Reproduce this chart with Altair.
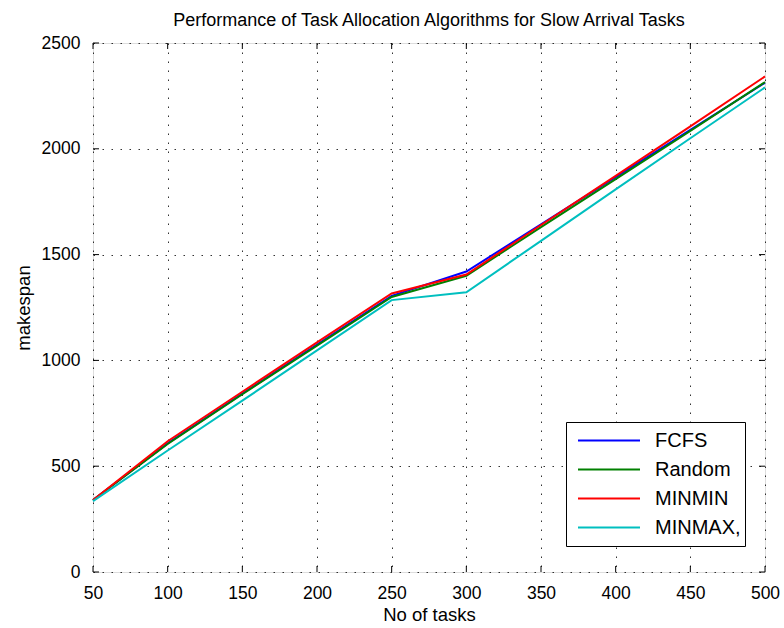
import altair as alt
import pandas as pd

tasks = [50, 100, 150, 200, 250, 300, 350, 400, 450, 500]
fcfs = [340, 608, 843, 1075, 1305, 1420, 1643, 1866, 2089, 2312]
random_alloc = [340, 605, 840, 1070, 1300, 1400, 1630, 1857, 2085, 2315]
minmin = [340, 618, 852, 1085, 1316, 1406, 1640, 1872, 2106, 2342]
minmax = [335, 574, 810, 1047, 1285, 1322, 1565, 1808, 2050, 2290]

series_names = ["FCFS", "Random", "MINMIN", "MINMAX,"]
series_colors = ["#0000FF", "#008000", "#FF0000", "#00BFBF"]

x_ticks = [50, 100, 150, 200, 250, 300, 350, 400, 450, 500]
y_ticks = [0, 500, 1000, 1500, 2000, 2500]

FONT = "Liberation Sans"
W, H = 672, 529
TICK = 6

rows = []
for name, vals in zip(series_names, [fcfs, random_alloc, minmin, minmax]):
    for i, (t, v) in enumerate(zip(tasks, vals)):
        rows.append({"tasks": t, "makespan": v, "algorithm": name, "idx": i})
df = pd.DataFrame(rows)

xscale = alt.Scale(domain=[50, 500], nice=False, zero=False)
yscale = alt.Scale(domain=[0, 2500], nice=False, zero=True)

xaxis = alt.Axis(values=x_ticks, format="d", grid=True, gridColor="#000000", gridDash=[1.5, 7.5],
                 gridOpacity=0.8, ticks=False, domain=False, labelFontSize=17.5,
                 labelFont=FONT, labelColor="black", labelPadding=12,
                 title="No of tasks", titleFont=FONT, titleFontSize=18.5,
                 titleFontWeight="normal", titleColor="black", titlePadding=4,
                 labelFlush=False)
yaxis = alt.Axis(values=y_ticks, format="d", grid=True, gridColor="#000000", gridDash=[1.5, 7.5],
                 gridOpacity=0.8, ticks=False, domain=False, labelFontSize=17.5,
                 labelFont=FONT, labelColor="black", labelPadding=13,
                 title="makespan", titleFont=FONT, titleFontSize=18.5,
                 titleFontWeight="normal", titleColor="black", titlePadding=8,
                 labelFlush=False)

lines = alt.Chart(df).mark_line(strokeWidth=2).encode(
    x=alt.X("tasks:Q", scale=xscale, axis=xaxis),
    y=alt.Y("makespan:Q", scale=yscale, axis=yaxis),
    color=alt.Color("algorithm:N",
                    scale=alt.Scale(domain=series_names, range=series_colors),
                    legend=alt.Legend(title=None, orient="none", legendX=473, legendY=379,
                                      symbolType="stroke", symbolSize=3844,
                                      symbolStrokeWidth=2, symbolOffset=7,
                                      clipHeight=29, rowPadding=0, padding=4,
                                      labelOffset=14, labelFont=FONT, labelFontSize=20,
                                      labelColor="black", strokeColor="black",
                                      fillColor="white", cornerRadius=0)),
    order="idx:Q",
)

xt = pd.DataFrame({"t": x_ticks})
yt = pd.DataFrame({"t": y_ticks})

xb = alt.Chart(xt).mark_rule(color="black", strokeWidth=1).encode(
    x=alt.X("t:Q", scale=xscale), y=alt.value(H), y2=alt.value(H - TICK))
xtp = alt.Chart(xt).mark_rule(color="black", strokeWidth=1).encode(
    x=alt.X("t:Q", scale=xscale), y=alt.value(0), y2=alt.value(TICK))
yl = alt.Chart(yt).mark_rule(color="black", strokeWidth=1).encode(
    y=alt.Y("t:Q", scale=yscale), x=alt.value(0), x2=alt.value(TICK))
yr = alt.Chart(yt).mark_rule(color="black", strokeWidth=1).encode(
    y=alt.Y("t:Q", scale=yscale), x=alt.value(W), x2=alt.value(W - TICK))

chart = alt.layer(lines, xb, xtp, yl, yr).properties(
    width=W, height=H,
    title=alt.TitleParams("Performance of Task Allocation Algorithms for Slow Arrival Tasks",
                          font=FONT, fontSize=18, fontWeight="normal", color="black",
                          anchor="middle", offset=4),
    autosize=alt.AutoSizeParams(type="none"),
    padding={"left": 93, "top": 43, "right": 19, "bottom": 56},
).configure_view(stroke="black", strokeWidth=1.2).configure(background="white")

chart.save("out.html", embed_options={"renderer": "svg", "actions": False})
